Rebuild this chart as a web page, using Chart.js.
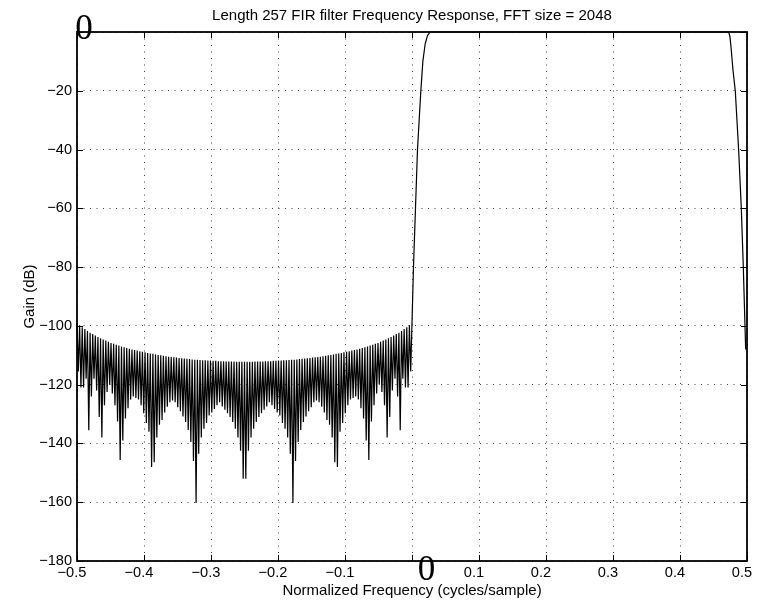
<!DOCTYPE html>
<html>
<head>
<meta charset="utf-8">
<script src="https://cdn.jsdelivr.net/npm/chart.js@4.4.0/dist/chart.umd.min.js"></script>
<style>
  html, body { margin: 0; padding: 0; background: #fff; }
  #wrap { width: 771px; height: 603px; }
</style>
</head>
<body>
<div id="wrap"><canvas id="firChart" width="771" height="603"></canvas></div>
<script>
// ================== DATA ==================
const TITLE = "Length 257 FIR filter Frequency Response, FFT size = 2048";
const X_LABEL = "Normalized Frequency (cycles/sample)";
const Y_LABEL = "Gain (dB)";

const xTickValues = [-0.5, -0.4, -0.3, -0.2, -0.1, 0, 0.1, 0.2, 0.3, 0.4, 0.5];
const yTickValues = [-180, -160, -140, -120, -100, -80, -60, -40, -20, 0];

// stopband (-0.5 .. 0): sidelobe peaks and the nulls between them
const lobeWidth = 1 / 256;
const stopPeaks = [
  -99.0, -99.8, -100.5, -101.1, -101.7, -102.3, -102.8, -103.3, -103.8, -104.2,
  -104.6, -105.0, -105.4, -105.8, -106.1, -106.4, -106.7, -107.0, -107.3, -107.5,
  -107.8, -108.0, -108.2, -108.4, -108.6, -108.8, -109.0, -109.2, -109.4, -109.5,
  -109.7, -109.9, -110.0, -110.2, -110.3, -110.5, -110.6, -110.7, -110.8, -110.9,
  -111.0, -111.1, -111.2, -111.3, -111.4, -111.5, -111.5, -111.6, -111.7, -111.7,
  -111.8, -111.8, -111.9, -111.9, -112.0, -112.0, -112.0, -112.1, -112.1, -112.1,
  -112.1, -112.2, -112.2, -112.2, -112.2,
  -112.2, -112.2, -112.2, -112.1, -112.1, -112.1, -112.1, -112.0, -112.0, -112.0,
  -111.9, -111.9, -111.8, -111.8, -111.7, -111.7, -111.6, -111.5, -111.5, -111.4,
  -111.3, -111.2, -111.1, -111.0, -110.9, -110.8, -110.7, -110.6, -110.5, -110.3,
  -110.2, -110.0, -109.9, -109.7, -109.5, -109.4, -109.2, -109.0, -108.8, -108.6,
  -108.4, -108.2, -108.0, -107.8, -107.5, -107.3, -107.0, -106.7, -106.4, -106.1,
  -105.8, -105.4, -105.0, -104.6, -104.2, -103.8, -103.3, -102.8, -102.3, -101.7,
  -101.1, -100.5, -99.8, -99.0
];
const stopNulls = [
  -115.5, -121, -121, -118, -135.5, -124, -118, -122, -131, -138,
  -127, -122.5, -120, -123, -127, -132.5, -145.6, -139, -131.5, -128,
  -125, -124, -124.5, -125, -127, -129.7, -133, -136, -148, -146.4,
  -138, -133.6, -132, -129.5, -127.5, -126, -125.4, -126, -127.7, -129,
  -130.8, -132.7, -135.4, -139.5, -146, -160.3, -143.5, -138, -135, -133,
  -130.5, -129.5, -128.3, -127, -126, -127.4, -128.5, -129.7, -131, -132.7,
  -135, -138, -142.5, -152,
  -152, -142.5, -138, -135, -132.7, -131, -129.7, -128.5, -127.4, -126,
  -127, -128.3, -129.5, -130.5, -133, -135, -138, -143.5, -160.3, -146,
  -139.5, -135.4, -132.7, -130.8, -129, -127.7, -126, -125.4, -126, -127.5,
  -129.5, -132, -133.6, -138, -146.4, -148, -136, -133, -129.7, -127,
  -125, -124.5, -124, -125, -128, -131.5, -139, -145.6, -132.5, -127,
  -123, -120, -122.5, -127, -138, -131, -122, -118, -124, -135.5,
  -118, -121, -121, -115.5
];

// transition up, passband, transition down
const riseFreq = [0.0022, 0.0052, 0.0082, 0.0132, 0.0162, 0.0197, 0.0231, 0.0271];
const riseGain = [-80, -60, -40, -20, -10, -4, -1.2, 0];
const passFreq = [0.1, 0.2, 0.3, 0.4, 0.4726];
const passGain = [0, 0, 0, 0, 0];
const fallFreq = [0.4745, 0.4761, 0.4791, 0.4825, 0.4875, 0.4915, 0.4945, 0.4970, 0.4980];
const fallGain = [-1.5, -5, -13, -20, -40, -60, -80, -100, -108];

// ================== BUILD SERIES ==================
function buildResponse() {
  const pts = [];
  stopNulls.forEach((n, k) => {
    pts.push({ x: -0.5 + 2 * k * (lobeWidth / 2), y: stopPeaks[k] });
    pts.push({ x: -0.5 + (2 * k + 1) * (lobeWidth / 2), y: n });
  });
  pts.push({ x: 0, y: stopPeaks[stopPeaks.length - 1] });
  riseFreq.forEach((f, i) => pts.push({ x: f, y: riseGain[i] }));
  passFreq.forEach((f, i) => pts.push({ x: f, y: passGain[i] }));
  fallFreq.forEach((f, i) => pts.push({ x: f, y: fallGain[i] }));
  return pts;
}

const fmtTick = (v) => (v === 0 ? "" : String(v).replace("-", "\u2212"));

// frame, inward tick marks and the odd serif zero labels
const TICK_LEN = 6;
const axesFramePlugin = {
  id: "axesFrame",
  afterDraw(chart) {
    const { ctx, chartArea: a } = chart;
    const xs = chart.scales.x;
    const ys = chart.scales.y;
    const L = Math.round(a.left), R = Math.round(a.right);
    const T = Math.round(a.top), B = Math.round(a.bottom);
    ctx.save();
    ctx.strokeStyle = "#000";
    ctx.lineWidth = 1;
    ctx.beginPath();
    xTickValues.forEach((v) => {
      const px = Math.round(xs.getPixelForValue(v)) + 0.5;
      ctx.moveTo(px, T); ctx.lineTo(px, T + TICK_LEN);
      ctx.moveTo(px, B); ctx.lineTo(px, B - TICK_LEN);
    });
    yTickValues.forEach((v) => {
      const py = Math.round(ys.getPixelForValue(v)) + 0.5;
      ctx.moveTo(L, py); ctx.lineTo(L + TICK_LEN, py);
      ctx.moveTo(R, py); ctx.lineTo(R - TICK_LEN, py);
    });
    ctx.stroke();
    ctx.lineWidth = 1.8;
    ctx.strokeRect(L, T, R - L, B - T);

    ctx.fillStyle = "#000";
    ctx.font = '35px "Liberation Serif", "Times New Roman", serif';
    ctx.textAlign = "center";
    ctx.textBaseline = "alphabetic";
    ctx.fillText("0", a.left + 7, ys.getPixelForValue(0) + 7);
    ctx.fillText("0", xs.getPixelForValue(0) + 14.5, a.bottom + 18.5);
    ctx.restore();
  },
};

// ================== CHART ==================
Chart.defaults.font.family = '"Liberation Sans", Arial, Helvetica, sans-serif';
Chart.defaults.color = "#000";

new Chart(document.getElementById("firChart"), {
  type: "scatter",
  data: {
    datasets: [
      {
        data: buildResponse(),
        showLine: true,
        borderColor: "#000",
        borderWidth: 1.2,
        pointRadius: 0,
        tension: 0,
        clip: false,
      },
    ],
  },
  options: {
    responsive: false,
    animation: false,
    devicePixelRatio: 1,
    layout: { padding: { left: 0, right: 24, top: 0, bottom: 0 } },
    plugins: {
      legend: { display: false },
      tooltip: { enabled: false },
      title: {
        display: true,
        text: TITLE,
        fullSize: false,
        color: "#000",
        font: { size: 15, weight: "normal" },
        padding: { top: 6.5, bottom: 7.5 },
      },
    },
    scales: {
      x: {
        type: "linear",
        min: -0.5,
        max: 0.5,
        afterBuildTicks: (s) => { s.ticks = xTickValues.map((v) => ({ value: v })); },
        afterFit: (s) => { s.height = 42; },
        ticks: {
          callback: fmtTick,
          autoSkip: false,
          maxRotation: 0,
          padding: 3,
          labelOffset: -5,
          font: { size: 14.6 },
          color: "#000",
        },
        grid: { drawTicks: false, color: "rgba(0,0,0,0.75)", lineWidth: 1 },
        border: { display: false, dash: [1, 5.5] },
        title: {
          display: true,
          text: X_LABEL,
          color: "#000",
          font: { size: 15 },
          padding: { top: 0, bottom: 3 },
        },
      },
      y: {
        type: "linear",
        min: -180,
        max: 0,
        afterBuildTicks: (s) => { s.ticks = yTickValues.map((v) => ({ value: v })); },
        afterFit: (s) => { s.width = 77; },
        ticks: {
          callback: fmtTick,
          autoSkip: false,
          padding: 5,
          font: { size: 14.6 },
          color: "#000",
        },
        grid: { drawTicks: false, color: "rgba(0,0,0,0.75)", lineWidth: 1 },
        border: { display: false, dash: [1, 5.5] },
        title: {
          display: true,
          text: Y_LABEL,
          color: "#000",
          font: { size: 15 },
          padding: { top: 21, bottom: 0 },
        },
      },
    },
  },
  plugins: [axesFramePlugin],
});
</script>
</body>
</html>
